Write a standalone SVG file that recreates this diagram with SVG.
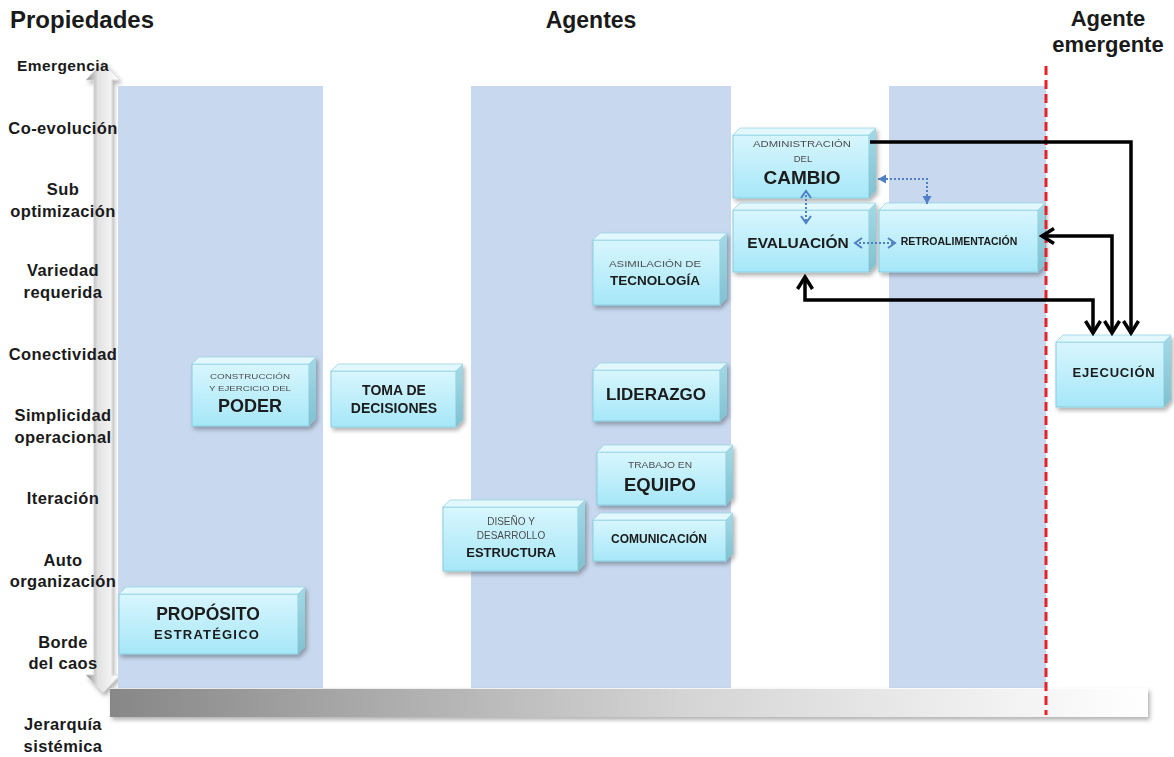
<svg xmlns="http://www.w3.org/2000/svg" width="1174" height="757" viewBox="0 0 1174 757">
  <defs>
    <linearGradient id="gFront" x1="0" y1="0" x2="0" y2="1">
      <stop offset="0" stop-color="#d8f6fd"/>
      <stop offset="1" stop-color="#a6e7f8"/>
    </linearGradient>
    <linearGradient id="gSide" x1="0" y1="0" x2="0" y2="1">
      <stop offset="0" stop-color="#a4d9e6"/>
      <stop offset="1" stop-color="#80c1d0"/>
    </linearGradient>
    <linearGradient id="gBar" x1="0" y1="0" x2="1" y2="0">
      <stop offset="0" stop-color="#878787"/>
      <stop offset="0.55" stop-color="#d4d4d4"/>
      <stop offset="1" stop-color="#ffffff"/>
    </linearGradient>
    <linearGradient id="gAxis" x1="0" y1="0" x2="1" y2="0">
      <stop offset="0" stop-color="#8a8a8a"/>
      <stop offset="0.35" stop-color="#e2e2e2"/>
      <stop offset="1" stop-color="#ffffff"/>
    </linearGradient>
    <filter id="shadow" x="-10%" y="-10%" width="130%" height="140%">
      <feDropShadow dx="2" dy="3" stdDeviation="2" flood-color="#000" flood-opacity="0.3"/>
    </filter>
    <marker id="blk" markerUnits="userSpaceOnUse" markerWidth="16" markerHeight="18" refX="13" refY="9" orient="auto-start-reverse">
      <path d="M1,1.5 L13,9 L1,16.5" fill="none" stroke="#000" stroke-width="3.5"/>
    </marker>
    <marker id="bluOpen" markerUnits="userSpaceOnUse" markerWidth="10" markerHeight="12" refX="8" refY="6" orient="auto-start-reverse">
      <path d="M1,1 L8,6 L1,11" fill="none" stroke="#4f7fc4" stroke-width="2"/>
    </marker>
    <marker id="bluFill" markerUnits="userSpaceOnUse" markerWidth="10" markerHeight="10" refX="8" refY="5" orient="auto-start-reverse">
      <path d="M0,0.5 L8,5 L0,9.5 Z" fill="#4f7fc4"/>
    </marker>
  </defs>
  <style>
    .col { fill: #c8d8ef; }
    .front { fill: url(#gFront); stroke: #86cde0; stroke-width: 1; }
    .top { fill: #e2f8fd; stroke: #9ad6e6; stroke-width: 0.8; }
    .side { fill: url(#gSide); }
    .head { font-family: "Liberation Sans", Arial, sans-serif; font-weight: bold; font-size: 22px; fill: #1a1a1a; text-anchor: middle; }
    .prop { font-family: "Liberation Sans", Arial, sans-serif; font-weight: bold; font-size: 16.5px; fill: #1a1a1a; text-anchor: middle; letter-spacing: 0.4px; }
    .big { font-family: "Liberation Sans", Arial, sans-serif; font-weight: bold; fill: #1a1a1a; text-anchor: middle; }
    .small { font-family: "Liberation Sans", Arial, sans-serif; fill: #4d4d4d; text-anchor: middle; }
    .conn { fill: none; stroke: #000; stroke-width: 3.5; }
    .dot { fill: none; stroke: #4f7fc4; stroke-width: 2; stroke-dasharray: 2 2; }
  </style>

  <rect width="1174" height="757" fill="#ffffff"/>

  <!-- property axis (double-headed) -->
  <path d="M103,62 L120,80 L112,80 L112,675 L120,675 L103,693 L86,675 L94,675 L94,80 L86,80 Z" fill="url(#gAxis)" stroke="#d0d0d0" stroke-width="0.8" filter="url(#shadow)"/>

  <!-- agent columns -->
  <rect class="col" x="118" y="86" width="205" height="602"/>
  <rect class="col" x="471" y="86" width="260" height="602"/>
  <rect class="col" x="889" y="86" width="157" height="602"/>

  <!-- hierarchy bar -->
  <rect x="110" y="688" width="1038" height="29" fill="url(#gBar)" filter="url(#shadow)"/>
  <line x1="110" y1="688.5" x2="1148" y2="688.5" stroke="#ffffff" stroke-width="1" opacity="0.8"/>

  <!-- headings -->
  <text class="head" x="82" y="28" style="font-size:24px">Propiedades</text>
  <text class="head" x="591" y="28" style="font-size:23px">Agentes</text>
  <text class="head" x="1108" y="26">Agente</text>
  <text class="head" x="1108" y="52">emergente</text>

  <!-- property labels -->
  <g id="properties">
    <text class="prop" x="63" y="71" style="font-size:15.5px">Emergencia</text>
    <text class="prop" x="63" y="134">Co-evolución</text>
    <text class="prop" x="63" y="195">Sub</text>
    <text class="prop" x="63" y="217">optimización</text>
    <text class="prop" x="63" y="276">Variedad</text>
    <text class="prop" x="63" y="298">requerida</text>
    <text class="prop" x="63" y="360">Conectividad</text>
    <text class="prop" x="63" y="421">Simplicidad</text>
    <text class="prop" x="63" y="443">operacional</text>
    <text class="prop" x="63" y="504">Iteración</text>
    <text class="prop" x="63" y="566">Auto</text>
    <text class="prop" x="63" y="587">organización</text>
    <text class="prop" x="63" y="648">Borde</text>
    <text class="prop" x="63" y="669">del caos</text>
    <text class="prop" x="63" y="730">Jerarquía</text>
    <text class="prop" x="63" y="752">sistémica</text>
  </g>

  <!-- agent boxes -->
  <g id="poder" filter="url(#shadow)">
    <rect class="front" x="192" y="364" width="117" height="62"/>
    <polygon class="top" points="192,364 199,357 316,357 309,364"/>
    <polygon class="side" points="309,364 316,357 316,419 309,426"/>
    <text class="small" x="250" y="379" font-size="8" textLength="80" lengthAdjust="spacingAndGlyphs">CONSTRUCCIÓN</text>
    <text class="small" x="250" y="391" font-size="8" textLength="82" lengthAdjust="spacingAndGlyphs">Y EJERCICIO DEL</text>
    <text class="big" x="250" y="412" font-size="18">PODER</text>
  </g>

  <g id="toma-decisiones" filter="url(#shadow)">
    <rect class="front" x="331" y="371" width="125" height="56"/>
    <polygon class="top" points="331,371 338,364 463,364 456,371"/>
    <polygon class="side" points="456,371 463,364 463,420 456,427"/>
    <text class="big" x="394" y="395" font-size="14">TOMA DE</text>
    <text class="big" x="394" y="413" font-size="14">DECISIONES</text>
  </g>

  <g id="proposito" filter="url(#shadow)">
    <rect class="front" x="119" y="594" width="179" height="60"/>
    <polygon class="top" points="119,594 126,587 305,587 298,594"/>
    <polygon class="side" points="298,594 305,587 305,647 298,654"/>
    <text class="big" x="208" y="620" font-size="17.5">PROPÓSITO</text>
    <text class="big" x="207" y="639" font-size="13" fill="#2a2a2a" letter-spacing="1.2">ESTRATÉGICO</text>
  </g>

  <g id="tecnologia" filter="url(#shadow)">
    <rect class="front" x="593" y="240" width="127" height="65"/>
    <polygon class="top" points="593,240 600,233 727,233 720,240"/>
    <polygon class="side" points="720,240 727,233 727,298 720,305"/>
    <text class="small" x="655" y="267" font-size="9" textLength="92" lengthAdjust="spacingAndGlyphs">ASIMILACIÓN DE</text>
    <text class="big" x="655" y="285" font-size="13.5">TECNOLOGÍA</text>
  </g>

  <g id="liderazgo" filter="url(#shadow)">
    <rect class="front" x="593" y="370" width="127" height="51"/>
    <polygon class="top" points="593,370 600,363 727,363 720,370"/>
    <polygon class="side" points="720,370 727,363 727,414 720,421"/>
    <text class="big" x="656" y="400" font-size="17">LIDERAZGO</text>
  </g>

  <g id="equipo" filter="url(#shadow)">
    <rect class="front" x="597" y="452" width="129" height="53"/>
    <polygon class="top" points="597,452 604,445 733,445 726,452"/>
    <polygon class="side" points="726,452 733,445 733,498 726,505"/>
    <text class="small" x="660" y="468" font-size="9.5" textLength="64" lengthAdjust="spacingAndGlyphs">TRABAJO EN</text>
    <text class="big" x="660" y="491" font-size="18.5">EQUIPO</text>
  </g>

  <g id="estructura" filter="url(#shadow)">
    <rect class="front" x="443" y="507" width="135" height="64"/>
    <polygon class="top" points="443,507 450,500 585,500 578,507"/>
    <polygon class="side" points="578,507 585,500 585,564 578,571"/>
    <text class="small" x="511" y="525" font-size="10">DISEÑO Y</text>
    <text class="small" x="511" y="539" font-size="10">DESARROLLO</text>
    <text class="big" x="511" y="557" font-size="13">ESTRUCTURA</text>
  </g>

  <g id="comunicacion" filter="url(#shadow)">
    <rect class="front" x="593" y="520" width="133" height="41"/>
    <polygon class="top" points="593,520 600,513 733,513 726,520"/>
    <polygon class="side" points="726,520 733,513 733,554 726,561"/>
    <text class="big" x="659" y="543" font-size="12" fill="#2a2a2a">COMUNICACIÓN</text>
  </g>

  <g id="cambio" filter="url(#shadow)">
    <rect class="front" x="733" y="135" width="136" height="63"/>
    <polygon class="top" points="733,135 740,128 876,128 869,135"/>
    <polygon class="side" points="869,135 876,128 876,191 869,198"/>
    <text class="small" x="802" y="147" font-size="9.5" textLength="98" lengthAdjust="spacingAndGlyphs">ADMINISTRACIÓN</text>
    <text class="small" x="803" y="162" font-size="9.5">DEL</text>
    <text class="big" x="802" y="184" font-size="19">CAMBIO</text>
  </g>

  <g id="evaluacion" filter="url(#shadow)">
    <rect class="front" x="733" y="210" width="136" height="62"/>
    <polygon class="top" points="733,210 740,203 876,203 869,210"/>
    <polygon class="side" points="869,210 876,203 876,265 869,272"/>
    <text class="big" x="798" y="248" font-size="15.5">EVALUACIÓN</text>
  </g>

  <g id="retroalimentacion" filter="url(#shadow)">
    <rect class="front" x="879" y="210" width="159" height="62"/>
    <polygon class="top" points="879,210 886,203 1045,203 1038,210"/>
    <polygon class="side" points="1038,210 1045,203 1045,265 1038,272"/>
    <text class="big" x="959" y="245" font-size="10.5" fill="#2a2a2a">RETROALIMENTACIÓN</text>
  </g>

  <g id="ejecucion" filter="url(#shadow)">
    <rect class="front" x="1056" y="342" width="108" height="65"/>
    <polygon class="top" points="1056,342 1063,335 1171,335 1164,342"/>
    <polygon class="side" points="1164,342 1171,335 1171,400 1164,407"/>
    <text class="big" x="1114" y="377" font-size="13" fill="#2a2a2a" letter-spacing="0.8">EJECUCIÓN</text>
  </g>

  <!-- emergent agent boundary -->
  <line x1="1046" y1="66" x2="1046" y2="715" stroke="#e5232b" stroke-width="3" stroke-dasharray="9 5"/>

  <!-- connectors -->
  <g id="connectors">
    <path class="conn" d="M870,142 H1131 V333" marker-end="url(#blk)"/>
    <path class="conn" d="M1112,333 V236 H1042" marker-start="url(#blk)" marker-end="url(#blk)"/>
    <path class="conn" d="M1093,333 V300 H805 V277" marker-start="url(#blk)" marker-end="url(#blk)"/>
    <path class="dot" d="M806,191 V223" marker-start="url(#bluOpen)" marker-end="url(#bluOpen)"/>
    <path class="dot" d="M855,243 H895" marker-start="url(#bluOpen)" marker-end="url(#bluOpen)"/>
    <path class="dot" d="M878,179 H927 V204" marker-start="url(#bluFill)" marker-end="url(#bluFill)"/>
  </g>
</svg>
